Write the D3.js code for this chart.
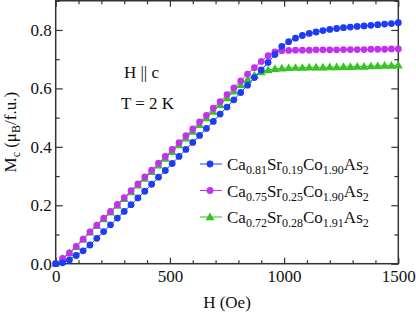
<!DOCTYPE html>
<html>
<head>
<meta charset="utf-8">
<script src="https://cdn.jsdelivr.net/npm/d3@7"></script>
<style>
  body { margin: 0; background: #fff; }
  svg text { font-family: "Liberation Serif", "DejaVu Serif", "Times New Roman", Times, serif; }
</style>
</head>
<body>
<div id="chart"></div>
<script>
// field values (Oe)
const fieldH = [0, 30, 60, 90, 120, 150, 180, 210, 240, 270, 300, 330, 360, 390, 420, 450, 480, 510, 540, 570,
    600, 630, 660, 690, 720, 750, 780, 810, 840, 870, 900, 930, 960, 990, 1020, 1050, 1080, 1110, 1140, 1170,
    1200, 1230, 1260, 1290, 1320, 1350, 1380, 1410, 1440, 1470, 1500];

// Mc (muB / f.u.) for each sample
const mBlue = [0.000, 0.003, 0.013, 0.028, 0.044, 0.064, 0.087, 0.110, 0.133, 0.156, 0.179, 0.202, 0.225, 0.248,
    0.272, 0.296, 0.319, 0.343, 0.367, 0.391, 0.415, 0.439, 0.463, 0.487, 0.512, 0.536, 0.561, 0.586, 0.611,
    0.637, 0.663, 0.689, 0.716, 0.744, 0.760, 0.772, 0.781, 0.788, 0.793, 0.798, 0.802, 0.805, 0.808, 0.810,
    0.812, 0.814, 0.816, 0.818, 0.820, 0.822, 0.825];
const mMagenta = [0.000, 0.018, 0.037, 0.059, 0.084, 0.109, 0.132, 0.156, 0.179, 0.203, 0.226, 0.250, 0.273,
    0.297, 0.320, 0.344, 0.367, 0.391, 0.414, 0.438, 0.461, 0.485, 0.508, 0.532, 0.555, 0.579, 0.602, 0.626,
    0.649, 0.671, 0.692, 0.712, 0.725, 0.729, 0.730, 0.731, 0.731, 0.731, 0.732, 0.732, 0.732, 0.732, 0.733,
    0.733, 0.733, 0.733, 0.734, 0.734, 0.734, 0.735, 0.735];
const mGreen = [0.000, 0.018, 0.036, 0.058, 0.083, 0.107, 0.130, 0.153, 0.176, 0.199, 0.222, 0.245, 0.268,
    0.291, 0.314, 0.337, 0.360, 0.383, 0.406, 0.429, 0.452, 0.475, 0.498, 0.521, 0.544, 0.567, 0.590, 0.612,
    0.630, 0.645, 0.656, 0.663, 0.667, 0.669, 0.670, 0.671, 0.671, 0.672, 0.672, 0.672, 0.673, 0.673, 0.674,
    0.674, 0.675, 0.675, 0.676, 0.677, 0.678, 0.678, 0.679];

const xMajor = [0, 500, 1000, 1500];
const xMinor = [100, 200, 300, 400, 600, 700, 800, 900, 1100, 1200, 1300, 1400];
const yMajor = [0, 0.2, 0.4, 0.6, 0.8];
const yMinor = [0.1, 0.3, 0.5, 0.7, 0.9];

const series = [
    { name: ["Ca", "0.81", "Sr", "0.19", "Co", "1.90", "As", "2"], values: mBlue, color: "#1f3cf5", shape: "circle" },
    { name: ["Ca", "0.75", "Sr", "0.25", "Co", "1.90", "As", "2"], values: mMagenta, color: "#c232ee", shape: "circle" },
    { name: ["Ca", "0.72", "Sr", "0.28", "Co", "1.91", "As", "2"], values: mGreen, color: "#34c41f", shape: "triangle" }
];

const width = 416, height = 314;
const margin = { top: 0.75, right: 17.7, bottom: 50.3, left: 55.7 };
const fs = 17;
const serif = "Liberation Serif, DejaVu Serif, Times New Roman, serif";
const axisColor = "#333";

const svg = d3.select("#chart").append("svg")
    .attr("width", width)
    .attr("height", height)
    .attr("font-family", serif);

const x = d3.scaleLinear().domain([0, 1500]).range([margin.left, width - margin.right]);
const y = d3.scaleLinear().domain([0, 0.9]).range([height - margin.bottom, margin.top]);

// ticks (inward on all four sides)
function styleAxis(g) {
    g.attr("font-family", serif).attr("font-size", fs);
    g.select(".domain").remove();
    g.selectAll("line").attr("stroke", axisColor).attr("stroke-width", 1.2);
    g.selectAll("text").attr("fill", "#111");
}
const yBot = height - margin.bottom, xRight = width - margin.right;

svg.append("g").attr("transform", `translate(0,${yBot})`)
    .call(d3.axisBottom(x).tickValues(xMajor).tickSize(-6).tickPadding(6).tickFormat(d3.format("d")))
    .call(styleAxis);
svg.append("g").attr("transform", `translate(0,${yBot})`)
    .call(d3.axisBottom(x).tickValues(xMinor).tickSize(-3.5).tickFormat(""))
    .call(styleAxis);
svg.append("g").attr("transform", `translate(0,${margin.top})`)
    .call(d3.axisTop(x).tickValues(xMajor).tickSize(-6).tickFormat(""))
    .call(styleAxis);
svg.append("g").attr("transform", `translate(0,${margin.top})`)
    .call(d3.axisTop(x).tickValues(xMinor).tickSize(-3.5).tickFormat(""))
    .call(styleAxis);
svg.append("g").attr("transform", `translate(${margin.left},0)`)
    .call(d3.axisLeft(y).tickValues(yMajor).tickSize(-7).tickPadding(4).tickFormat(d3.format(".1f")))
    .call(styleAxis);
svg.append("g").attr("transform", `translate(${margin.left},0)`)
    .call(d3.axisLeft(y).tickValues(yMinor).tickSize(-4).tickFormat(""))
    .call(styleAxis);
svg.append("g").attr("transform", `translate(${xRight},0)`)
    .call(d3.axisRight(y).tickValues(yMajor).tickSize(-7).tickFormat(""))
    .call(styleAxis);
svg.append("g").attr("transform", `translate(${xRight},0)`)
    .call(d3.axisRight(y).tickValues(yMinor).tickSize(-4).tickFormat(""))
    .call(styleAxis);

// frame
svg.append("rect")
    .attr("x", margin.left).attr("y", margin.top)
    .attr("width", xRight - margin.left).attr("height", yBot - margin.top)
    .attr("fill", "none").attr("stroke", axisColor).attr("stroke-width", 1.5);

// data
const line = d3.line().x((d, i) => x(fieldH[i])).y(d => y(d));
const tri = d3.symbol().type(d3.symbolTriangle).size(34);

function drawMarker(g, shape, color, cx, cy) {
    if (shape === "circle") {
        g.append("circle").attr("cx", cx).attr("cy", cy).attr("r", 3.4).attr("fill", color);
    } else {
        g.append("path").attr("d", tri).attr("transform", `translate(${cx},${cy + 0.6})`).attr("fill", color);
    }
}

// draw bottom-most series last so blue sits on top like the original
[2, 1, 0].forEach(k => {
    const s = series[k];
    const g = svg.append("g");
    g.append("path").datum(s.values)
        .attr("d", line)
        .attr("fill", "none").attr("stroke", s.color).attr("stroke-width", 1);
    s.values.forEach((v, i) => drawMarker(g, s.shape, s.color, x(fieldH[i]), y(v)));
});

// legend
const legendRows = [164, 190.5, 217];
series.forEach((s, k) => {
    const ly = legendRows[k];
    const g = svg.append("g");
    g.append("line").attr("x1", 200).attr("x2", 222).attr("y1", ly).attr("y2", ly)
        .attr("stroke", s.color).attr("stroke-width", 1);
    drawMarker(g, s.shape, s.color, 210, ly);
    const t = g.append("text").attr("x", 227).attr("y", ly + 6)
        .attr("fill", "#111").attr("font-size", fs);
    s.name.forEach((part, j) => {
        const sub = j % 2 === 1;
        t.append("tspan").text(part)
            .attr("font-size", sub ? 12 : fs)
            .attr("dy", sub ? 4 : (j === 0 ? 0 : -4));
    });
});

// annotations
svg.append("text").attr("x", 141.5).attr("y", 78).attr("text-anchor", "middle")
    .attr("fill", "#111").attr("font-size", fs).text("H || c");
svg.append("text").attr("x", 147.5).attr("y", 109).attr("text-anchor", "middle")
    .attr("fill", "#111").attr("font-size", fs).text("T = 2 K");

// axis titles
svg.append("text").attr("x", (margin.left + xRight) / 2).attr("y", 308).attr("text-anchor", "middle")
    .attr("fill", "#111").attr("font-size", fs).text("H (Oe)");

const yt = svg.append("text")
    .attr("transform", `translate(16,${(margin.top + yBot) / 2}) rotate(-90)`)
    .attr("text-anchor", "middle").attr("fill", "#111").attr("font-size", fs);
yt.append("tspan").text("M");
yt.append("tspan").text("c").attr("font-size", 12).attr("dy", 4);
yt.append("tspan").text(" (μ").attr("dy", -4);
yt.append("tspan").text("B").attr("font-size", 12).attr("dy", 4);
yt.append("tspan").text("/f.u.)").attr("dy", -4);
</script>
</body>
</html>
